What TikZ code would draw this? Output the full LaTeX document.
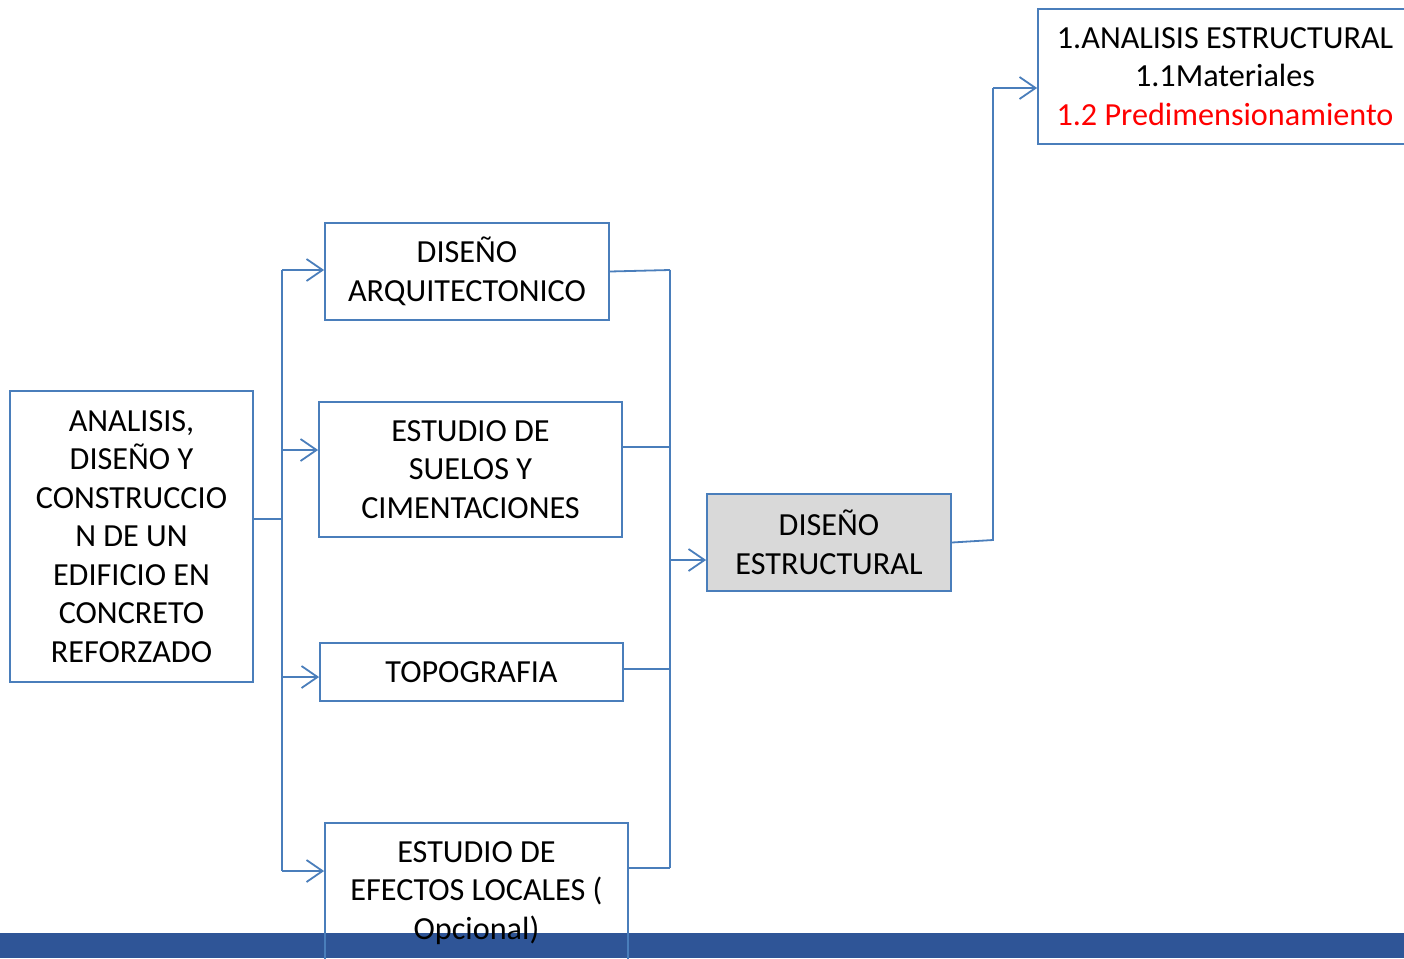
\documentclass[tikz,border=0pt]{standalone}
\usepackage{fontspec}
\setmainfont{Carlito}
\usetikzlibrary{arrows.meta}
\definecolor{lineblue}{HTML}{4A7EBB}
\definecolor{barblue}{HTML}{2F5597}
\definecolor{boxgray}{HTML}{D9D9D9}
\definecolor{redtxt}{HTML}{FF0000}
\begin{document}
\begin{tikzpicture}[x=1pt,y=-1pt,
  box/.style={draw=lineblue, line width=1.8pt, align=center, inner sep=0pt,
    font=\fontsize{32.2}{38.5}\selectfont},
  conn/.style={draw=lineblue, line width=1.8pt},
  arr/.style={conn, -{Straight Barb[length=16pt,width=22pt,line width=1.8pt]}}]
\useasboundingbox (0,0) rectangle (1404,958);
\fill[barblue] (0,933) rectangle (1404,958);
\node[box, minimum width=243pt, minimum height=291pt] (A) at (131.5,536.5)
  {ANALISIS,\\DISEÑO Y\\CONSTRUCCIO\\N DE UN\\EDIFICIO EN\\CONCRETO\\REFORZADO};
\node[box, minimum width=284pt, minimum height=97pt] (B) at (467,271.5)
  {DISEÑO\\ARQUITECTONICO};
\node[box, minimum width=303pt, minimum height=135pt] (C) at (470.5,469.5)
  {ESTUDIO DE\\SUELOS Y\\CIMENTACIONES};
\node[box, minimum width=303pt, minimum height=58pt] (D) at (471.5,672)
  {TOPOGRAFIA};
\node[box, minimum width=303pt, minimum height=140pt] (E) at (476.5,893)
  {ESTUDIO DE\\EFECTOS LOCALES (\\Opcional)};
\node[box, fill=boxgray, minimum width=244pt, minimum height=97pt] (F) at (829,542.5)
  {DISEÑO\\ESTRUCTURAL};
\node[box, minimum width=374pt, minimum height=135pt] (G) at (1225,76.5)
  {1.ANALISIS ESTRUCTURAL\\1.1Materiales\\\textcolor{redtxt}{1.2 Predimensionamiento}};
% left distribution
\coordinate (jL) at (282,519);
\coordinate (lt) at (282,270);
\coordinate (lc) at (282,450);
\coordinate (ld) at (282,677);
\coordinate (lb) at (282,871);
\draw[conn] (A.east |- jL) -- (jL);
\draw[conn] (lt) -- (lb);
\draw[arr] (lt) -- (lt -| B.west);
\draw[arr] (lc) -- (lc -| C.west);
\draw[arr] (ld) -- (ld -| D.west);
\draw[arr] (lb) -- (lb -| E.west);
% right collection
\coordinate (rt) at (670,270);
\coordinate (rc) at (670,447);
\coordinate (rd) at (670,669);
\coordinate (rb) at (670,868);
\coordinate (rf) at (670,560);
\draw[conn] (B.east) -- (rt);
\draw[conn] (rt) -- (rb);
\draw[conn] (rc -| C.east) -- (rc);
\draw[conn] (rd -| D.east) -- (rd);
\draw[conn] (rb -| E.east) -- (rb);
\draw[arr] (rf) -- (rf -| F.west);
% to analysis
\coordinate (u1) at (993,540);
\coordinate (u2) at (993,88);
\draw[conn] (F.east) -- (u1) -- (u2);
\draw[arr] (u2) -- (u2 -| G.west);
\end{tikzpicture}
\end{document}
